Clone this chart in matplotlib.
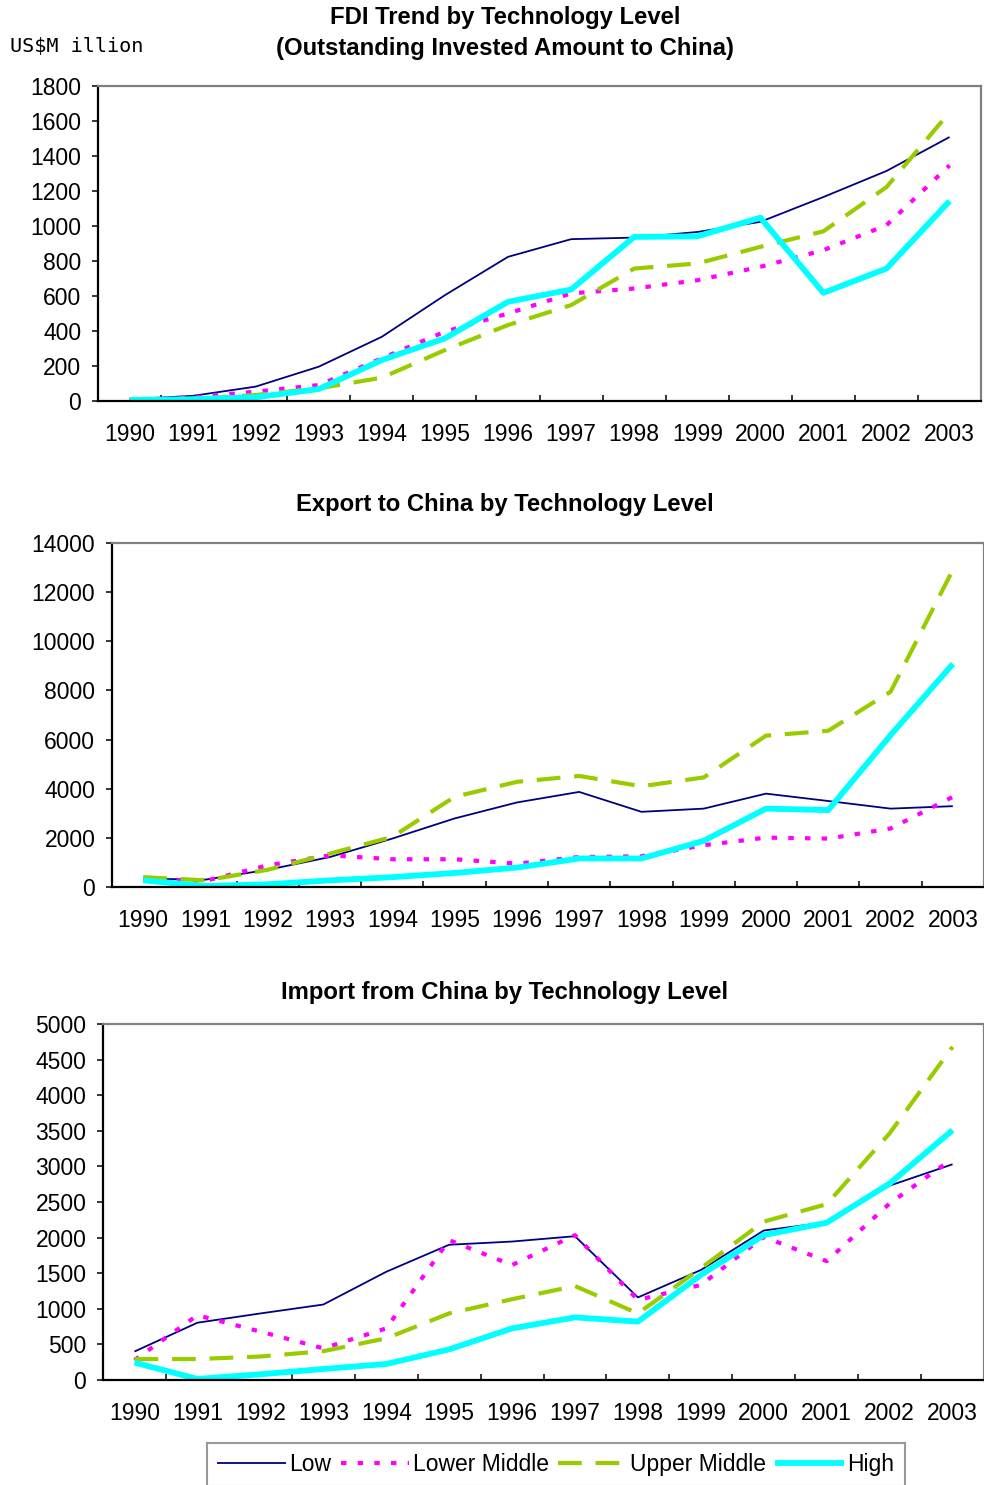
"""
FDI / Export / Import trend by technology level - three stacked line charts
"""
import matplotlib
matplotlib.use('Agg')
import matplotlib.pyplot as plt
from matplotlib.ticker import MultipleLocator, FixedLocator

plt.rcParams['font.family'] = ['Liberation Sans', 'DejaVu Sans']

# Data
years = ['1990', '1991', '1992', '1993', '1994', '1995', '1996',
         '1997', '1998', '1999', '2000', '2001', '2002', '2003']
series_names = ['Low', 'Lower Middle', 'Upper Middle', 'High']

fdi_low = [10, 29, 82, 196, 367, 605, 824, 925, 934, 966, 1024, 1166, 1315, 1509]
fdi_lower_mid = [6, 21, 53, 91, 244, 396, 500, 615, 643, 690, 767, 862, 1005, 1347]
fdi_upper_mid = [6, 11, 34, 72, 133, 291, 434, 548, 757, 786, 881, 970, 1223, 1651]
fdi_high = [6, 10, 21, 68, 234, 358, 567, 637, 938, 941, 1048, 618, 757, 1143]

exp_low = [340, 300, 700, 1220, 1970, 2790, 3440, 3870, 3060, 3190, 3800, 3500, 3190, 3290]
exp_lower_mid = [300, 250, 880, 1290, 1130, 1130, 950, 1220, 1250, 1700, 2010, 1970, 2380, 3670]
exp_upper_mid = [400, 270, 700, 1360, 2040, 3670, 4280, 4520, 4100, 4460, 6160, 6360, 7950, 12910]
exp_high = [270, 40, 110, 270, 400, 570, 790, 1160, 1160, 1880, 3190, 3130, 6180, 9080]

imp_low = [400, 805, 935, 1060, 1520, 1900, 1945, 2020, 1160, 1545, 2100, 2215, 2730, 3030]
imp_lower_mid = [280, 910, 680, 445, 725, 1965, 1615, 2035, 1125, 1335, 2010, 1670, 2480, 3110]
imp_upper_mid = [295, 295, 330, 405, 585, 935, 1135, 1320, 935, 1570, 2225, 2470, 3465, 4680]
imp_high = [245, 15, 80, 155, 225, 430, 725, 880, 820, 1475, 2035, 2210, 2760, 3510]

# Line styles (Excel-like)
styles = [
    dict(color='#000080', lw=1.3, ls='-'),
    dict(color='#FF00FF', lw=3.0, ls=(0, (1.3, 2.7)), dash_capstyle='butt'),
    dict(color='#99CC00', lw=3.0, ls=(0, (5.7, 3.3)), dash_capstyle='butt'),
    dict(color='#00FFFF', lw=4.2, ls='-'),
]

TICK_FS = 16.5
TITLE_FS = 17.2

fig = plt.figure(figsize=(9.84, 14.85), dpi=100)


def draw_panel(rect, series, ymax, ystep):
    ax = fig.add_axes(rect)
    x = list(range(len(years)))
    lines = []
    for vals, name, st in zip(series, series_names, styles):
        ln, = ax.plot(x, vals, label=name, solid_capstyle='butt', **st)
        lines.append(ln)
    ax.set_xlim(-0.5, len(years) - 0.5)
    ax.set_ylim(0, ymax)
    ax.yaxis.set_major_locator(MultipleLocator(ystep))

    # category labels in the middle, tick marks on the boundaries
    ax.set_xticks(x)
    ax.set_xticklabels(years)
    ax.xaxis.set_minor_locator(FixedLocator([i + 0.5 for i in range(len(years) - 1)]))
    ax.tick_params(axis='x', which='major', length=0, pad=16, labelsize=TICK_FS)
    ax.tick_params(axis='x', which='minor', direction='in', length=4, width=1.1, color='black')
    ax.tick_params(axis='y', direction='out', length=4, width=1.1, pad=8, labelsize=TICK_FS)

    for side in ['top', 'right']:
        ax.spines[side].set_color('#808080')
        ax.spines[side].set_linewidth(1.6)
    for side in ['left', 'bottom']:
        ax.spines[side].set_color('black')
        ax.spines[side].set_linewidth(1.6)
    return ax, lines


# Panel 1: FDI
draw_panel([0.0996, 0.730, 0.8975, 0.212],
           [fdi_low, fdi_lower_mid, fdi_upper_mid, fdi_high], 1800, 200)
fig.text(0.513, 0.9885, 'FDI Trend by Technology Level', ha='center', va='center',
         fontsize=TITLE_FS, fontweight='bold')
fig.text(0.513, 0.9675, '(Outstanding Invested Amount to China)', ha='center', va='center',
         fontsize=TITLE_FS, fontweight='bold')
fig.text(0.010, 0.969, 'US$M illion', ha='left', va='center',
         fontsize=14.5, family='DejaVu Sans Mono')

# Panel 2: Export
draw_panel([0.1138, 0.4027, 0.8862, 0.2316],
           [exp_low, exp_lower_mid, exp_upper_mid, exp_high], 14000, 2000)
fig.text(0.513, 0.660, 'Export to China by Technology Level', ha='center', va='center',
         fontsize=TITLE_FS, fontweight='bold')

# Panel 3: Import
ax3, lines = draw_panel([0.1047, 0.0707, 0.8953, 0.2397],
                        [imp_low, imp_lower_mid, imp_upper_mid, imp_high], 5000, 500)
fig.text(0.513, 0.3315, 'Import from China by Technology Level', ha='center', va='center',
         fontsize=TITLE_FS, fontweight='bold')

# Legend box at the bottom (cut off by the figure edge like the original)
leg = fig.legend(handles=lines, labels=series_names, loc='upper center',
                 bbox_to_anchor=(0.565, 0.0285), ncol=4, frameon=True, fancybox=False,
                 fontsize=TICK_FS, handlelength=3.0, handletextpad=0.15, columnspacing=0.4,
                 borderpad=0.45, borderaxespad=0)
leg.get_frame().set_edgecolor('#808080')
leg.get_frame().set_linewidth(1.5)

fig.savefig('out.png', dpi=100)
